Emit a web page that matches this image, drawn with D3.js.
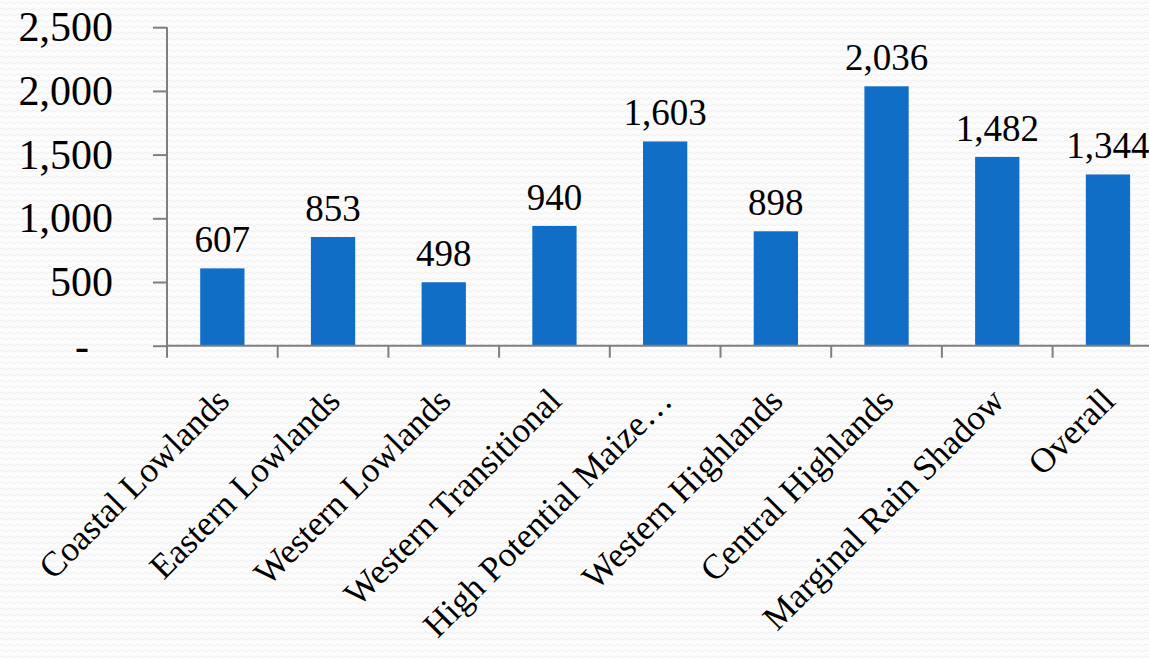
<!DOCTYPE html>
<html>
<head>
<meta charset="utf-8">
<script src="https://cdn.jsdelivr.net/npm/d3@7"></script>
<style>
  html, body { margin: 0; padding: 0; background: #ffffff; }
  svg { display: block; }
</style>
</head>
<body>
<svg id="chart" width="1149" height="658"></svg>
<script>
// Zones and their values
const categories = [
  "Coastal Lowlands", "Eastern Lowlands", "Western Lowlands", "Western Transitional",
  "High Potential Maize…", "Western Highlands", "Central Highlands",
  "Marginal Rain Shadow", "Overall"
];
const values = [607, 853, 498, 940, 1603, 898, 2036, 1482, 1344];
const yTicks = [0, 500, 1000, 1500, 2000, 2500];

const W = 1149, H = 658;
const left = 167, bandW = 110.7;
const yBottom = 345.7, yTop = 27.2;
const font = "'Liberation Serif', 'DejaVu Serif', serif";

const svg = d3.select("#chart");

// faint textured paper background
const defs = svg.append("defs");
const pat = defs.append("pattern")
  .attr("id", "paper").attr("width", 8).attr("height", 6)
  .attr("patternUnits", "userSpaceOnUse");
pat.append("rect").attr("width", 8).attr("height", 6).attr("fill", "#fcfcfc");
pat.append("path").attr("d", "M0,3 Q2,1 4,3 T8,3")
  .attr("fill", "none").attr("stroke", "#efefef").attr("stroke-width", 1);
svg.append("rect").attr("width", W).attr("height", H).attr("fill", "url(#paper)");

const x = d3.scaleBand().domain(categories)
  .range([left, left + bandW * categories.length])
  .paddingInner(0.6).paddingOuter(0.3);
const y = d3.scaleLinear().domain([0, 2500]).range([yBottom, yTop]);

const fmt = d3.format(",");

// bars
svg.append("g").selectAll("rect").data(values).join("rect")
  .attr("x", (d, i) => x(categories[i]))
  .attr("width", x.bandwidth())
  .attr("y", d => y(d))
  .attr("height", d => y(0) - y(d))
  .attr("fill", "#106ec6");

// y axis
const yAxis = svg.append("g")
  .attr("transform", `translate(${left},0)`)
  .call(d3.axisLeft(y).tickValues(yTicks).tickSize(14).tickPadding(40)
    .tickFormat(d => d === 0 ? "-" : fmt(d)));
yAxis.select(".domain").attr("stroke", "#7f7f7f").attr("stroke-width", 2)
  .attr("d", `M0,${yTop}V${yBottom + 12}`);
yAxis.selectAll(".tick line").attr("stroke", "#7f7f7f").attr("stroke-width", 2);
yAxis.selectAll(".tick text")
  .attr("font-family", font).attr("font-size", 42).attr("fill", "#000")
  .attr("dx", d => d === 0 ? -24 : 0);

// x axis with ticks at the band boundaries
const edges = d3.range(categories.length + 1).map(i => left + i * bandW);
const xAxis = svg.append("g");
xAxis.append("line")
  .attr("x1", left).attr("x2", edges[edges.length - 1])
  .attr("y1", yBottom).attr("y2", yBottom)
  .attr("stroke", "#7f7f7f").attr("stroke-width", 2);
xAxis.selectAll("line.tk").data(edges.slice(1)).join("line")
  .attr("class", "tk")
  .attr("x1", d => d).attr("x2", d => d)
  .attr("y1", yBottom).attr("y2", yBottom + 12)
  .attr("stroke", "#7f7f7f").attr("stroke-width", 2);

// rotated category labels
svg.append("g").selectAll("text").data(categories).join("text")
  .attr("transform", d => `translate(${x(d) + x.bandwidth() / 2 - 9},${385}) rotate(-45)`)
  .attr("text-anchor", "end")
  .attr("dy", "0.72em")
  .attr("font-family", font).attr("font-size", 35).attr("fill", "#000")
  .text(d => d);

// value labels
svg.append("g").selectAll("text").data(values).join("text")
  .attr("x", (d, i) => x(categories[i]) + x.bandwidth() / 2)
  .attr("y", d => y(d) - 16)
  .attr("text-anchor", "middle")
  .attr("font-family", font).attr("font-size", 37).attr("fill", "#000")
  .text(d => fmt(d));
</script>
</body>
</html>
